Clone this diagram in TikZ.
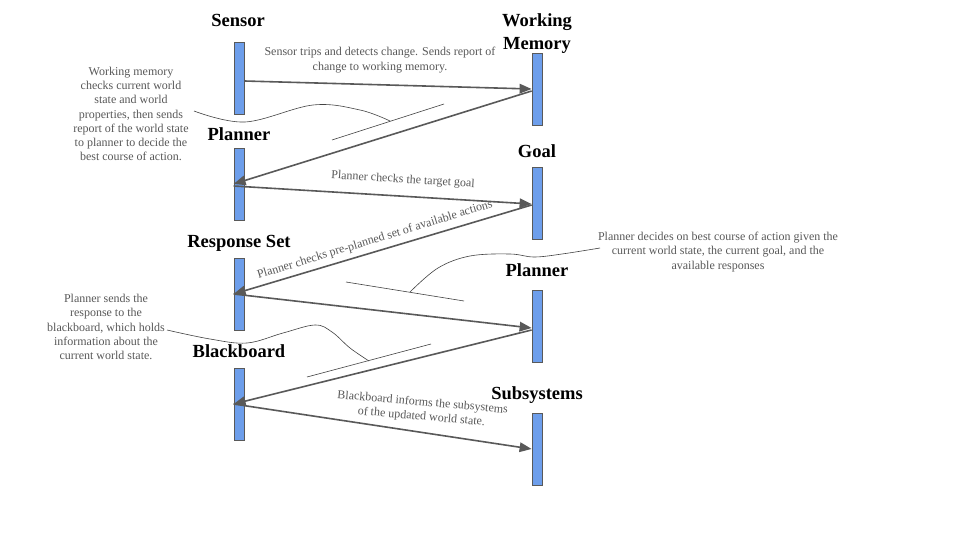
\documentclass[tikz,border=0pt]{standalone}
\usepackage{fontspec}
\setmainfont{Liberation Serif}
\usetikzlibrary{arrows.meta,calc}
\definecolor{barblue}{HTML}{6D9EEB}
\definecolor{dgray}{HTML}{595959}
\definecolor{cgray}{HTML}{434343}
\begin{document}
\begin{tikzpicture}[x=1pt,y=-1pt,
  bar/.style={draw=dgray,line width=0.8pt,fill=barblue,minimum width=10pt,minimum height=72pt,inner sep=0pt},
  title/.style={font=\fontsize{18.5}{23}\selectfont\bfseries,align=center,inner sep=0pt,anchor=base},
  note/.style={font=\fontsize{12}{14.3}\selectfont,text=dgray,align=center,inner sep=0pt},
  msg/.style={draw=dgray,line width=1.6pt,-{Triangle[length=12pt,width=9.5pt]}},
  callout/.style={draw=cgray,line width=0.6pt}]
\useasboundingbox (0,0) rectangle (960,540);
\fill[white] (0,0) rectangle (960,540);

% titles
\node[title] (tsensor) at (238,27) {Sensor};
\node[title,anchor=center] (twm) at (537,34) {Working\\Memory};
\node[title] (tplan1) at (239,141) {Planner};
\node[title] (tgoal) at (537,158) {Goal};
\node[title] (tresp) at (239,247) {Response Set};
\node[title] (tplan2) at (537,276) {Planner};
\node[title] (tbb) at (239,357) {Blackboard};
\node[title] (tsub) at (537,399) {Subsystems};

% bars
\node[bar] (sensor) at (239,78) {};
\node[bar] (wm) at (537,89) {};
\node[bar] (plan1) at (239,184) {};
\node[bar] (goal) at (537,203) {};
\node[bar] (resp) at (239,294) {};
\node[bar] (plan2) at (537,326) {};
\node[bar] (bb) at (239,404) {};
\node[bar] (sub) at (537,449) {};

% messages
\draw[msg] ([yshift=-3pt]sensor.east) -- (wm.west);
\draw[msg] ([yshift=-2pt]wm.west) -- (plan1.west);
\draw[msg] ([yshift=-2pt]plan1.west) -- ([yshift=-1pt]goal.west);
\draw[msg] ([yshift=-2pt]goal.west) -- (resp.west);
\draw[msg] (resp.west) -- ([yshift=-2pt]plan2.west);
\draw[msg] ([yshift=-4pt]plan2.west) -- (bb.west);
\draw[msg] (bb.west) -- (sub.west);

% message labels
\node[note] (n1) at (380,60) {Sensor trips and detects change. Sends report of\\change to working memory.};
\node[note,rotate=-3.5] (n2) at (403,180) {Planner checks the target goal};
\node[note,rotate=17] (n3) at (375,240) {Planner checks pre-planned set of available actions};
\node[note,rotate=-5] (n4) at (422,410) {Blackboard informs the subsystems\\of the updated world state.};

% callouts
\node[note] (c1) at (131,114) {Working memory\\checks current world\\state and world\\properties, then sends\\report of the world state\\to planner to decide the\\best course of action.};
\node[note] (c2) at (718,252) {Planner decides on best course of action given the\\current world state, the current goal, and the\\available responses};
\node[note] (c3) at (106,327) {Planner sends the\\response to the\\blackboard, which holds\\information about the\\current world state.};

\coordinate (s1a) at (332,140);
\coordinate (s1b) at (444,104);
\draw[callout] (s1a) -- (s1b);
\draw[callout] plot[smooth,tension=0.6] coordinates {(194,111) (245,122) (313,105) (360,110) (390,121)};

\coordinate (s2a) at (346,282);
\coordinate (s2b) at (464,301);
\draw[callout] (s2a) -- (s2b);
\draw[callout] plot[smooth,tension=0.6] coordinates {(600,248) (562,254) (534,257) (510,254) (470,256) (438,268) (410,292)};

\coordinate (s3a) at (307,377);
\coordinate (s3b) at (431,344);
\draw[callout] (s3a) -- (s3b);
\draw[callout] plot[smooth,tension=0.6] coordinates {(167,330) (210,339) (247,343) (283,333) (315,325) (332,332) (350,348) (369,361)};
\end{tikzpicture}
\end{document}
